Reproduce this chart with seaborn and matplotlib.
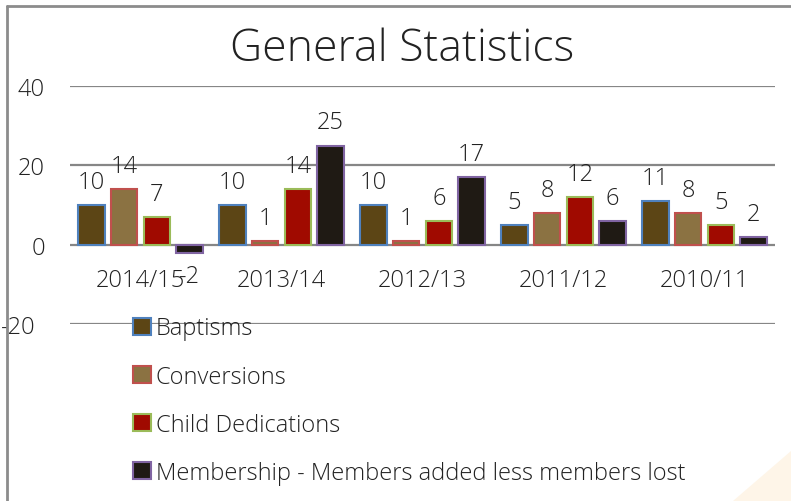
import numpy as np
import pandas as pd
import seaborn as sns
import matplotlib.pyplot as plt
from matplotlib.patches import Patch, Polygon
from matplotlib.lines import Line2D
from matplotlib.transforms import ScaledTranslation

years = ["2014/15", "2013/14", "2012/13", "2011/12", "2010/11"]
series = ["Baptisms", "Conversions", "Child Dedications",
          "Membership - Members added less members lost"]
baptisms = [10, 10, 10, 5, 11]
conversions = [14, 1, 1, 8, 8]
dedications = [7, 14, 6, 12, 5]
membership = [-2, 25, 17, 6, 2]

fills = ["#5C4515", "#8B7242", "#A00A00", "#1F1A14"]
edges = ["#4F81BD", "#C0504D", "#9BBB59", "#8064A2"]

rows = []
for name, vals in zip(series, [baptisms, conversions, dedications, membership]):
    for y, v in zip(years, vals):
        rows.append({"year": y, "series": name, "value": v})
df = pd.DataFrame(rows)

sns.set_style("white")
plt.rcParams['font.family'] = ['Open Sans', 'DejaVu Sans']
plt.rcParams['font.weight'] = 'light'
plt.rcParams['axes.unicode_minus'] = False
txt = "#222222"
fs = 17

fig = plt.figure(figsize=(7.91, 5.02), dpi=100)
ax = fig.add_axes([70 / 791, (502 - 325) / 502, 705 / 791, 238 / 502])

sns.barplot(data=df, x="year", y="value", hue="series", order=years,
            hue_order=series, palette=fills, width=0.93, gap=0.19,
            linewidth=1.5, ax=ax, legend=False, saturation=1)

for cont, ec in zip(ax.containers, edges):
    for bar in cont:
        bar.set_edgecolor(ec)
    ax.bar_label(cont, fmt="%g", padding=8, fontsize=fs, color=txt)

ax.set_ylim(-20, 40)
ax.set_xlim(-0.5, len(years) - 0.5)
ax.set_yticks([-20, 0, 20, 40])
ax.yaxis.grid(True, color="#868686", linewidth=1.6)
ax.set_axisbelow(True)
sns.despine(ax=ax, left=True, bottom=True)
ax.tick_params(axis="y", length=0, pad=18, labelsize=fs, labelcolor=txt)
ax.tick_params(axis="x", length=0, labelbottom=False)
ax.set(xlabel="", ylabel="")
# the -20 label sits further left in the original
lab = ax.get_yticklabels()[0]
lab.set_transform(lab.get_transform() + ScaledTranslation(-9 / 100, 0, fig.dpi_scale_trans))

for i, y in enumerate(years):
    ax.text(i, -9, y, ha="center", va="center", fontsize=fs, color=txt)

fig.text(0.508, 0.9, "General Statistics", ha="center", va="center",
         fontsize=32, color=txt)

handles = [Patch(facecolor=f, edgecolor=e, linewidth=1.5) for f, e in zip(fills, edges)]
fig.legend(handles, series, loc="upper left", bbox_to_anchor=(124 / 791, 1 - 308 / 502),
           frameon=False, fontsize=fs, handlelength=0.75, handleheight=0.75,
           handletextpad=0.2, labelspacing=1.02, labelcolor=txt, borderaxespad=0)

# frame and corner decoration
fig.add_artist(Line2D([7 / 791, 1], [1 - 7 / 502, 1 - 7 / 502], color="#8C8C8C", lw=2,
                      transform=fig.transFigure))
fig.add_artist(Line2D([7 / 791, 7 / 791], [0, 1 - 7 / 502], color="#8C8C8C", lw=2,
                      transform=fig.transFigure))
fig.add_artist(Polygon([[733 / 791, 0], [1, 0], [1, 50 / 502]], closed=True,
                       facecolor="#FEF5E8", edgecolor="none", transform=fig.transFigure,
                       zorder=-1))

fig.savefig("out.png", dpi=100)
